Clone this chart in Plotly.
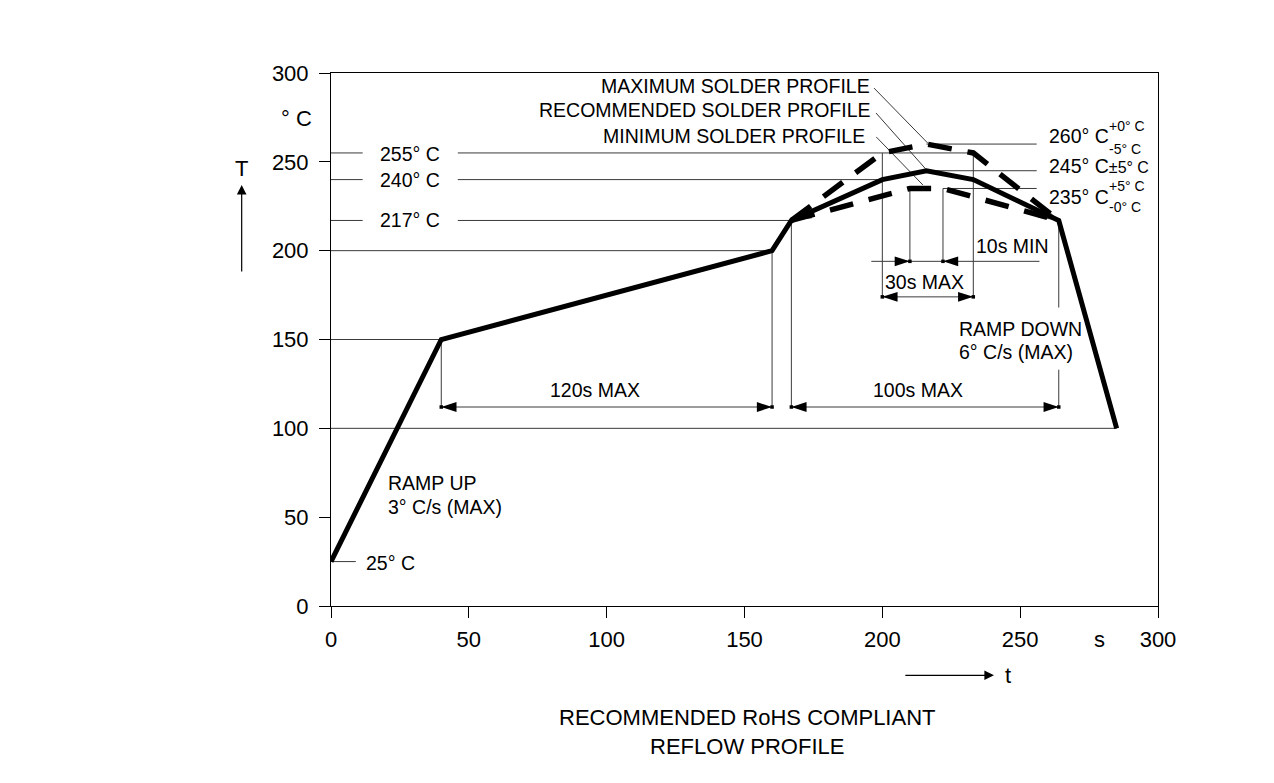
import plotly.graph_objects as go

# ---------------- data ----------------
rec_t = [0, 40, 160, 167, 200, 216, 233, 264, 285]
rec_T = [25, 150, 200, 217, 240, 245, 240, 217, 100]
max_t = [167, 200, 216, 233, 264]
max_T = [217, 255, 260, 255, 217]
min_t = [167, 210, 222, 264]
min_T = [217, 235, 235, 217]

x_ticks = [0, 50, 100, 150, 200, 250, 300]
y_ticks = [0, 50, 100, 150, 200, 250, 300]
X_RANGE = [0, 300]
Y_RANGE = [0, 300]

# horizontal guide lines (t_start, t_end, T)
h_lines = [
    (0, 11.5, 255), (46, 233, 255),
    (0, 11.5, 240), (46, 200, 240),
    (0, 11.5, 217), (46, 167, 217),
    (0, 160, 200), (0, 40, 150), (0, 285, 100), (0, 9, 25),
    (216, 256, 260), (216, 256, 245), (222, 256, 235),
    (196, 257, 194), (40, 160, 112), (167, 264, 112), (200, 233, 174),
]
# vertical guide lines (t, T_start, T_end)
v_lines = [
    (40, 112, 150), (160, 112, 200), (167, 112, 217),
    (264, 168, 217), (264, 112, 133),
    (200, 174, 255), (233, 174, 255),
    (210, 194, 235), (222, 194, 235),
]
# leader lines (t0, T0, t1, T1)
leaders = [
    (197.0, 291.5, 216.5, 260.5),
    (197.7, 277.5, 216.0, 245.5),
    (197.8, 264.0, 214.7, 237.0),
]
# dimension arrow tips (t, T, angle)
dim_tips = [
    (40, 112, 270), (160, 112, 90),
    (167, 112, 270), (264, 112, 90),
    (200, 174, 270), (233, 174, 90),
    (210, 194, 90), (222, 194, 270),
]

FONT = "Liberation Sans, Arial, sans-serif"
GUIDE = "#3a3a3a"

fig = go.Figure()

def seg_trace(xs, ys, color=GUIDE, width=1):
    fig.add_trace(go.Scatter(x=xs, y=ys, mode="lines",
                             line=dict(color=color, width=width),
                             hoverinfo="skip", showlegend=False))

hx, hy = [], []
for a, b, y in h_lines:
    hx += [a, b, None]; hy += [y, y, None]
seg_trace(hx, hy)

vx, vy = [], []
for x, a, b in v_lines:
    vx += [x, x, None]; vy += [a, b, None]
seg_trace(vx, vy)

lx, ly = [], []
for x0, y0, x1, y1 in leaders:
    lx += [x0, x1, None]; ly += [y0, y1, None]
seg_trace(lx, ly, color="#222", width=0.9)

# profiles
fig.add_trace(go.Scatter(x=max_t, y=max_T, mode="lines",
                         line=dict(color="black", width=5.5, dash="24px,16px"),
                         hoverinfo="skip", showlegend=False))
fig.add_trace(go.Scatter(x=min_t, y=min_T, mode="lines",
                         line=dict(color="black", width=5.5, dash="24px,16px"),
                         hoverinfo="skip", showlegend=False))
fig.add_trace(go.Scatter(x=rec_t, y=rec_T, mode="lines",
                         line=dict(color="black", width=5),
                         hoverinfo="skip", showlegend=False))

# arrowheads on recommended profile
for i0, i1 in [(4, 3), (6, 7)]:
    fig.add_trace(go.Scatter(x=[rec_t[i0], rec_t[i1]], y=[rec_T[i0], rec_T[i1]],
                             mode="markers",
                             marker=dict(symbol="arrow", size=[0, 21], color="black",
                                         angleref="previous", line=dict(width=0)),
                             hoverinfo="skip", showlegend=False))

# dimension arrowheads
fig.add_trace(go.Scatter(x=[d[0] for d in dim_tips], y=[d[1] for d in dim_tips],
                         mode="markers",
                         marker=dict(symbol="arrow", size=16, color="black",
                                     angle=[d[2] for d in dim_tips], line=dict(width=0)),
                         hoverinfo="skip", showlegend=False))
fig.add_trace(go.Scatter(x=[d[0] for d in dim_tips], y=[d[1] for d in dim_tips],
                         mode="markers",
                         marker=dict(symbol="square", size=3.5, color="black", line=dict(width=0)),
                         hoverinfo="skip", showlegend=False))

def px(t):
    return (t - X_RANGE[0]) / (X_RANGE[1] - X_RANGE[0])

def py(T):
    return (T - Y_RANGE[0]) / (Y_RANGE[1] - Y_RANGE[0])

ann = []
def txt(x, y, s, size=19.5, xanchor="center"):
    # positions given in axis units; placed through paper fractions so that
    # labels outside the plotting range are still drawn
    ann.append(dict(x=px(x), y=py(y), xref="paper", yref="paper", text=s, showarrow=False,
                    xanchor=xanchor, yanchor="middle",
                    font=dict(family=FONT, size=size, color="black")))

txt(196.4, 292.8, "MAXIMUM SOLDER PROFILE", xanchor="right")
txt(196.6, 279.3, "RECOMMENDED SOLDER PROFILE", xanchor="right")
txt(194.6, 264.3, "MINIMUM SOLDER PROFILE", xanchor="right")
txt(28.6, 254.5, "255° C")
txt(28.6, 240, "240° C")
txt(28.6, 217.5, "217° C")
txt(12, 24.2, "25° C", xanchor="left")
txt(19.8, 69, "RAMP UP", xanchor="left")
txt(19.8, 56, "3° C/s (MAX)", xanchor="left")
txt(95.6, 121.5, "120s MAX")
txt(213, 121.5, "100s MAX")
txt(215.3, 182.5, "30s MAX")
txt(233.3, 202.6, "10s MIN", xanchor="left")
txt(227, 156, "RAMP DOWN", xanchor="left")
txt(227, 143, "6° C/s (MAX)", xanchor="left")
# right labels
txt(259.7, 264.7, "260° C", xanchor="left")
txt(281.6, 270.3, "+0° C", size=14, xanchor="left")
txt(281.6, 257.5, "-5° C", size=14, xanchor="left")
txt(259.7, 247.5, "245° C<span style='font-size:16px'>±5° C</span>", xanchor="left")
txt(259.7, 230.0, "235° C", xanchor="left")
txt(281.6, 236.2, "+5° C", size=14, xanchor="left")
txt(281.6, 224.8, "-0° C", size=14, xanchor="left")
# axis unit labels
txt(-12.4, 274.4, "° C", size=22)
txt(-32.4, 246.4, "T", size=22)
txt(278.8, -18.7, "s", size=22)
txt(243.8, -39.0, "t", size=22, xanchor="left")
txt(151, -71, "RECOMMENDED RoHS COMPLIANT<br>REFLOW PROFILE", size=22)

# T and t arrows (pixel offsets follow the axis scale: 827 px / 300 s, 533 px / 300 °C)
ann.append(dict(x=px(-32.4), y=py(237), xref="paper", yref="paper",
                ax=0, ay=(237 - 187.5) * 533 / 300,
                text="", showarrow=True, arrowhead=2, arrowsize=1.6, arrowwidth=1.2,
                arrowcolor="black"))
ann.append(dict(x=px(240.5), y=py(-39.0), xref="paper", yref="paper",
                ax=-(240.5 - 207.8) * 827 / 300, ay=0,
                text="", showarrow=True, arrowhead=2, arrowsize=1.6, arrowwidth=1.2,
                arrowcolor="black"))

axis_common = dict(showgrid=False, zeroline=False, showline=True, mirror=True,
                   linecolor="black", linewidth=1, ticks="outside", ticklen=11,
                   tickcolor="black", tickwidth=1,
                   tickfont=dict(family=FONT, size=22, color="black"))

fig.update_layout(
    width=1274, height=783,
    margin=dict(l=323, r=124, t=65, b=185),
    paper_bgcolor="white", plot_bgcolor="white",
    font=dict(family=FONT, color="black"),
    showlegend=False,
    annotations=ann,
    xaxis=dict(range=X_RANGE, tickvals=x_ticks, ticktext=[str(v) for v in x_ticks],
               ticklabelstandoff=3, **axis_common),
    yaxis=dict(range=Y_RANGE, tickvals=y_ticks, ticktext=[str(v) for v in y_ticks],
               ticklabelstandoff=6, **axis_common),
)

fig.write_html("out.html")
